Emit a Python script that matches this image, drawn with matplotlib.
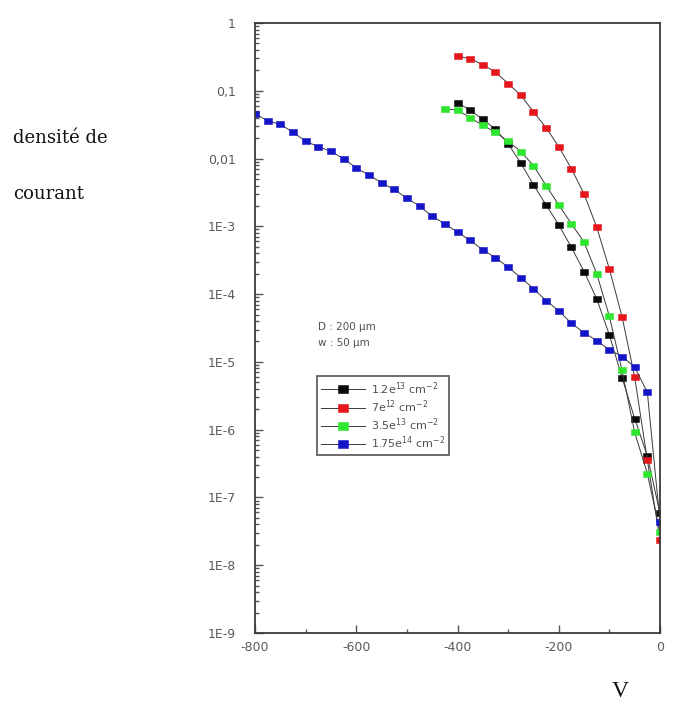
import numpy as np
import matplotlib
matplotlib.use("Agg")
import matplotlib.pyplot as plt
from matplotlib.ticker import FixedLocator, FixedFormatter, LogLocator, NullFormatter

plt.rcParams['axes.unicode_minus'] = False

# Bias voltage (V) and current density for each fluence
v_black = [-400, -375, -350, -325, -300, -275, -250, -225, -200, -175, -150, -125,
           -100, -75, -50, -25, 0]
j_black = [0.066, 0.052, 0.038, 0.027, 0.0165, 0.0086, 0.0041, 2.07e-3, 1.05e-3,
           4.9e-4, 2.15e-4, 8.5e-5, 2.5e-5, 5.85e-6, 1.46e-6, 4.1e-7, 5.8e-8]

v_red = [-400, -375, -350, -325, -300, -275, -250, -225, -200, -175, -150, -125,
         -100, -75, -50, -25, 0]
j_red = [0.325, 0.297, 0.243, 0.189, 0.128, 0.086, 0.049, 0.0285, 0.015, 0.0071,
         0.003, 9.7e-4, 2.35e-4, 4.65e-5, 5.95e-6, 3.55e-7, 2.35e-8]

v_green = [-425, -400, -375, -350, -325, -300, -275, -250, -225, -200, -175, -150,
           -125, -100, -75, -50, -25, 0]
j_green = [0.054, 0.052, 0.040, 0.031, 0.0245, 0.018, 0.0127, 0.0079, 0.004, 2.07e-3,
           1.09e-3, 5.85e-4, 2.0e-4, 4.7e-5, 7.5e-6, 9.1e-7, 2.25e-7, 3.1e-8]

v_blue = [-800, -775, -750, -725, -700, -675, -650, -625, -600, -575, -550, -525,
          -500, -475, -450, -425, -400, -375, -350, -325, -300, -275, -250, -225,
          -200, -175, -150, -125, -100, -75, -50, -25, 0]
j_blue = [0.046, 0.036, 0.032, 0.0245, 0.018, 0.015, 0.0128, 0.0099, 0.0073, 0.0057,
          0.0044, 0.0035, 0.0026, 0.002, 0.0014, 1.09e-3, 8.2e-4, 6.2e-4, 4.5e-4,
          3.45e-4, 2.5e-4, 1.75e-4, 1.21e-4, 8.0e-5, 5.7e-5, 3.7e-5, 2.7e-5, 2.06e-5,
          1.51e-5, 1.2e-5, 8.4e-6, 3.55e-6, 4.4e-8]

series_labels = [r'1.2e$^{13}$ cm$^{-2}$', r'7e$^{12}$ cm$^{-2}$',
                 r'3.5e$^{13}$ cm$^{-2}$', r'1.75e$^{14}$ cm$^{-2}$']
series_colors = ['#0a0a0a', '#e5161c', '#2ee62e', '#1414c8']

y_tick_values = [1e-9, 1e-8, 1e-7, 1e-6, 1e-5, 1e-4, 1e-3, 1e-2, 1e-1, 1]
y_tick_labels = ['1E-9', '1E-8', '1E-7', '1E-6', '1E-5', '1E-4', '1E-3', '0,01', '0,1', '1']
x_tick_values = [-800, -600, -400, -200, 0]
x_tick_labels = ['-800', '-600', '-400', '-200', '0']

fig = plt.figure(figsize=(6.87, 7.02), dpi=100)
ax = fig.add_axes([0.3712, 0.0983, 0.5895, 0.8689])

# wide, short rectangle marker
rect = [(-1, -0.72), (1, -0.72), (1, 0.72), (-1, 0.72), (-1, -0.72)]

data = [(v_black, j_black), (v_red, j_red), (v_green, j_green), (v_blue, j_blue)]
for (vx, jy), lab, col in zip(data, series_labels, series_colors):
    ax.plot(vx, jy, color='#3a3a3a', lw=0.7, marker=rect, markersize=6.0,
            markeredgewidth=0.4, markerfacecolor=col, markeredgecolor=col, label=lab)

ax.set_yscale('log')
ax.set_xlim(-800, 0)
ax.set_ylim(1e-9, 1)

ax.yaxis.set_major_locator(FixedLocator(y_tick_values))
ax.yaxis.set_major_formatter(FixedFormatter(y_tick_labels))
ax.yaxis.set_minor_locator(LogLocator(base=10, subs=np.arange(2, 10), numticks=30))
ax.yaxis.set_minor_formatter(NullFormatter())

ax.xaxis.set_major_locator(FixedLocator(x_tick_values))
ax.xaxis.set_major_formatter(FixedFormatter(x_tick_labels))
ax.xaxis.set_minor_locator(FixedLocator([-700, -500, -300, -100]))

for s in ax.spines.values():
    s.set_color('#3a3a3a')
    s.set_linewidth(1.3)

ax.tick_params(which='both', direction='in', color='#555555', width=1.0,
               labelcolor='#5a5a5a', labelsize=9)
ax.tick_params(which='major', length=6)
ax.tick_params(which='minor', length=3)
ax.tick_params(axis='y', which='major', pad=14)
ax.tick_params(axis='x', which='major', pad=6)

leg = ax.legend(loc='upper left', bbox_to_anchor=(0.153, 0.421), fontsize=8,
                frameon=True, fancybox=False, handlelength=4.0, handletextpad=0.5,
                labelspacing=0.15, borderpad=0.35, markerscale=1.3,
                borderaxespad=0.0, labelcolor='#505050')
leg.get_frame().set_edgecolor('#3a3a3a')
leg.get_frame().set_linewidth(1.3)

ax.text(0.156, 0.502, 'D : 200 µm', transform=ax.transAxes, fontsize=7.5,
        color='#505050', va='center', ha='left')
ax.text(0.156, 0.475, 'w : 50 µm', transform=ax.transAxes, fontsize=7.5,
        color='#505050', va='center', ha='left')

fig.text(0.019, 0.796, 'densité de', family='DejaVu Serif', fontsize=13,
         color='#111111', va='baseline', ha='left')
fig.text(0.019, 0.7165, 'courant', family='DejaVu Serif', fontsize=13,
         color='#111111', va='baseline', ha='left')
fig.text(0.9025, 0.030, 'V', family='Liberation Serif', fontsize=17,
         color='#111111', va='top', ha='center')

fig.savefig('out.png', dpi=100)
